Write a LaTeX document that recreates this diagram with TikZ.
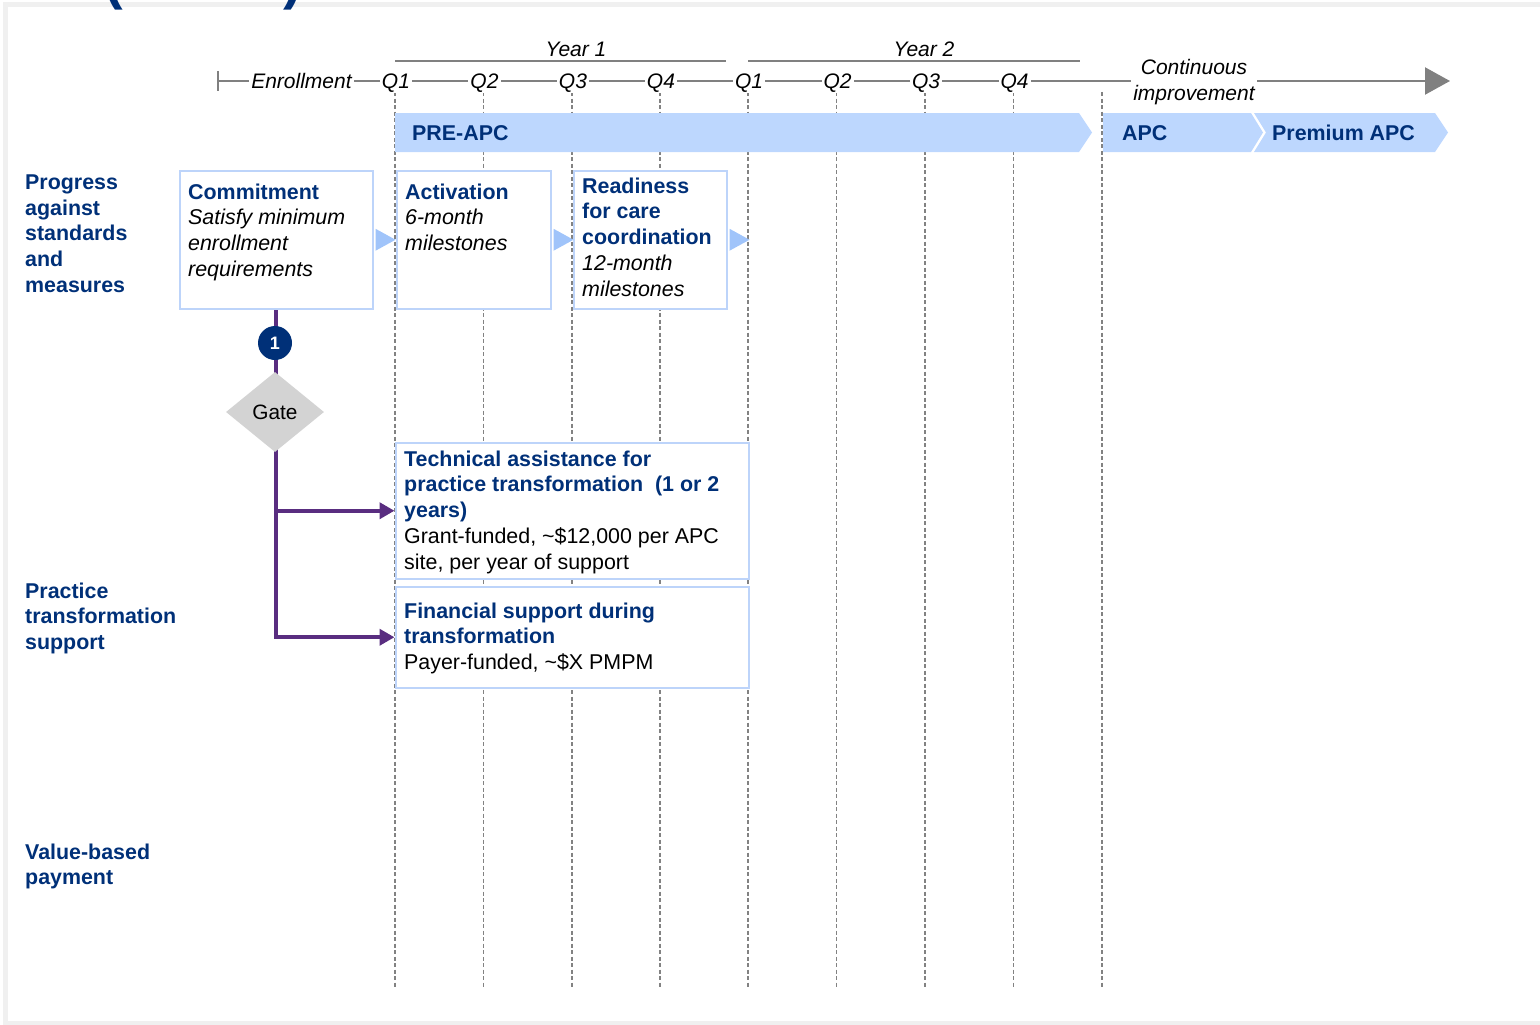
\documentclass[tikz,border=0pt]{standalone}
\usepackage{fontspec}
\setmainfont{Liberation Sans}
\usetikzlibrary{arrows.meta,shapes.geometric,calc}

\definecolor{navy}{RGB}{0,48,120}
\definecolor{barblue}{RGB}{189,215,254}
\definecolor{edgeblue}{RGB}{189,212,250}
\definecolor{tipblue}{RGB}{160,196,250}
\definecolor{purp}{RGB}{89,45,128}
\definecolor{tlgray}{RGB}{128,128,128}
\definecolor{dashgray}{RGB}{130,130,130}
\definecolor{framegray}{RGB}{240,240,240}
\definecolor{gategray}{RGB}{211,211,211}

\newcommand\bodyfont{\fontsize{21.4}{25.7}\selectfont}
\newcommand\hd[1]{{\color{navy}\bfseries #1}}

\begin{document}
\begin{tikzpicture}[x=1pt,y=-1pt,
  every node/.style={inner sep=0pt},
  qlabel/.style={font=\fontsize{21}{26}\selectfont\itshape, fill=white, inner xsep=2pt, inner ysep=1pt, anchor=base},
  rowlab/.style={font=\bodyfont\bfseries, text=navy, anchor=north west, align=left},
  boxtext/.style={font=\bodyfont, anchor=north west, align=left},
  chevtext/.style={font=\bodyfont\bfseries, text=navy, anchor=west},
  box/.style={draw=edgeblue, line width=2.5pt, fill=white, anchor=north west},
  vdash/.style={dashgray, line width=1.5pt, dash pattern=on 4pt off 2.5pt},
  tlline/.style={tlgray, line width=2.2pt},
  conn/.style={purp, line width=4pt, -{Triangle[length=15pt,width=16pt]}},
  stepmark/.style={tipblue},
]
\useasboundingbox (0,0) rectangle (1540,1025);

% outer frame
\draw[framegray, line width=5pt] (1550,4.5) -- (5.8,4.5) -- (5.8,1023.8) -- (1550,1023.8);

% heading remnant above the frame
\begin{scope}
  \clip (0,0) rectangle (1540,1025);
  \node[font=\fontsize{56}{60}\selectfont\bfseries, text=navy, anchor=south] (lpar) at (113.6,10) {(};
  \node[font=\fontsize{56}{60}\selectfont\bfseries, text=navy, anchor=south] (rpar) at (293,10) {)};
\end{scope}

% quarter grid
\foreach \x in {395,483.5,572,660,748,836.5,925,1013.5,1102}
  \draw[vdash] (\x,92) -- (\x,988);

% timeline
\coordinate (tlstart) at (218,81);
\coordinate (tlend) at (1450,81);
\draw[tlgray, line width=2pt] (218,71) -- (218,91);
\draw[tlline, -{Triangle[length=25pt,width=27pt]}] (tlstart) -- (tlend);
\node[qlabel] (enr) at (301.5,88.5) {Enrollment};
\foreach \x/\q [count=\i] in {395/Q1,483.5/Q2,572/Q3,660/Q4,748/Q1,836.5/Q2,925/Q3,1013.5/Q4}
  \node[qlabel] (q\i) at (\x+1,88.5) {\q};
\node[fill=white, inner xsep=2pt, align=center, anchor=north, font=\fontsize{21}{26}\selectfont\itshape] (cont) at (1194,59.5) {Continuous\\improvement};

% years
\draw[tlgray, line width=1.8pt] (395,61) -- (726,61);
\draw[tlgray, line width=1.8pt] (748,61) -- (1080,61);
\node[font=\fontsize{21}{26}\selectfont\itshape, anchor=base] (y1) at (576,56.5) {Year 1};
\node[font=\fontsize{21}{26}\selectfont\itshape, anchor=base] (y2) at (924,56.5) {Year 2};

% stages
\fill[barblue] (395,113) -- (1079,113) -- (1092,132.5) -- (1079,152) -- (395,152) -- cycle;
\fill[barblue] (1103,113) -- (1251,113) -- (1263,132.5) -- (1251,152) -- (1103,152) -- cycle;
\fill[barblue] (1254,113) -- (1435,113) -- (1448,132.5) -- (1435,152) -- (1254,152) -- (1266,132.5) -- cycle;
\node[chevtext] (preapc) at (412,133) {PRE-APC};
\node[chevtext] (apc) at (1122,133) {APC};
\node[chevtext] (papc) at (1272,133) {Premium APC};

% row labels
\node[rowlab] (rowA) at (25,174.5) {Progress\\against\\standards\\and\\measures};
\node[rowlab] (rowB) at (25,582.5) {Practice\\transformation\\support};
\node[rowlab] (rowC) at (25,843.5) {Value-based\\payment};

% milestone boxes
\node[box, minimum width=193pt, minimum height=138pt] (commit) at (178.5,169.5) {};
\node[box, minimum width=154pt, minimum height=138pt] (act) at (395.5,169.5) {};
\node[box, minimum width=153pt, minimum height=138pt] (ready) at (572.5,169.5) {};
\foreach \b in {commit,act,ready}
  \fill[stepmark] ($(\b.east)+(1.5,-11)$) -- ++(20,11) -- ++(-20,11) -- cycle;

\node[boxtext] (commitT) at (188,183.5) {\hd{Commitment}\\\textit{Satisfy minimum}\\\textit{enrollment}\\\textit{requirements}};
\node[boxtext] (actT) at (405,183.5) {\hd{Activation}\\\textit{6-month}\\\textit{milestones}};
\node[boxtext] (readyT) at (582,177.5) {\hd{Readiness}\\\hd{for care}\\\hd{coordination}\\\textit{12-month}\\\textit{milestones}};

% support boxes
\node[box, minimum width=353pt, minimum height=136pt] (tech) at (394.5,441.5) {};
\node[box, minimum width=353pt, minimum height=101pt] (fin) at (394.5,585.5) {};
\node[boxtext] (techT) at (404,450.5) {\hd{Technical assistance for}\\\hd{practice transformation\ \ (1 or 2}\\\hd{years)}\\Grant-funded, \textasciitilde\$12,000 per APC\\site, per year of support};
\node[boxtext] (finT) at (404,602.5) {\hd{Financial support during}\\\hd{transformation}\\Payer-funded, \textasciitilde\$X PMPM};

% gate flow
\draw[conn] (commit.south) |- (fin.west);
\draw[conn] (commit.south |- tech.west) -- (tech.west);
\node[circle, fill=navy, minimum size=34pt, text=white, font=\fontsize{18}{18}\selectfont\bfseries] (one) at (275,343) {1};
\node[diamond, fill=gategray, minimum width=98pt, minimum height=80pt, font=\fontsize{20.8}{24}\selectfont] (gate) at (275,412) {Gate};
\end{tikzpicture}
\end{document}
